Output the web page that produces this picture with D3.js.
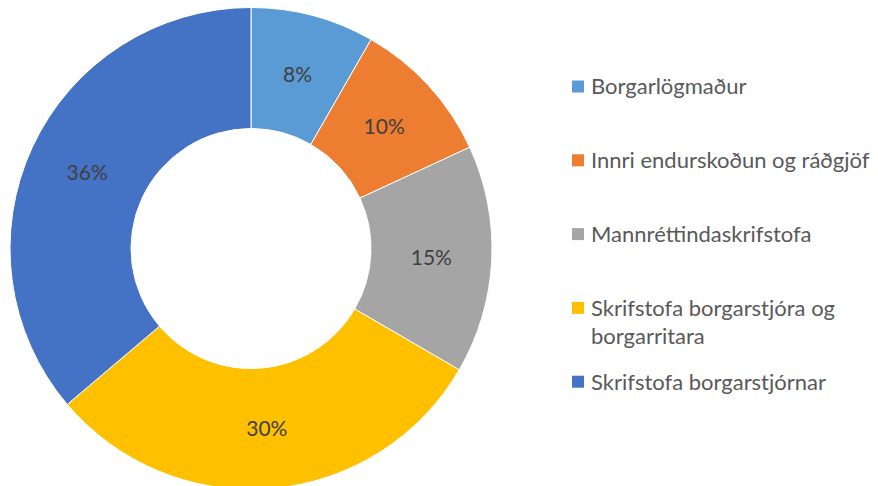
<!DOCTYPE html>
<html>
<head>
<meta charset="utf-8">
<script src="https://d3js.org/d3.v7.min.js"></script>
<style>
  body { margin: 0; background: #fff; }
  svg { display: block; font-family: Lato, "Open Sans", sans-serif; }
  .label { font-size: 21px; fill: #404040; }
  .legend text { font-size: 22px; fill: #595959; }
</style>
</head>
<body>
<div id="chart"></div>
<script>
  // slices (percent of total)
  const categories = ["Borgarlögmaður", "Innri endurskoðun og ráðgjöf", "Mannréttindaskrifstofa",
                      "Skrifstofa borgarstjóra og borgarritara", "Skrifstofa borgarstjórnar"];
  const values = [8.3, 9.8, 15.3, 30.4, 36.2];
  const colors = ["#5B9BD5", "#ED7D31", "#A5A5A5", "#FFC000", "#4472C4"];

  const width = 878, height = 486;
  const cx = 251, cy = 248.5;
  const outerR = 241, innerR = 120;

  const svg = d3.select("#chart").append("svg")
      .attr("width", width)
      .attr("height", height);

  const data = categories.map((c, i) => ({name: c, value: values[i], color: colors[i]}));
  const total = d3.sum(values);

  const pie = d3.pie().sort(null).value(d => d.value);
  const arc = d3.arc().innerRadius(innerR).outerRadius(outerR);
  const labelArc = d3.arc().innerRadius((innerR + outerR) / 2).outerRadius((innerR + outerR) / 2);

  const g = svg.append("g").attr("transform", "translate(" + cx + "," + cy + ")");

  const slices = g.selectAll("g.slice")
      .data(pie(data))
      .enter().append("g")
      .attr("class", "slice");

  slices.append("path")
      .attr("d", arc)
      .attr("fill", d => d.data.color)
      .attr("stroke", "#fff")
      .attr("stroke-width", 1);

  slices.append("text")
      .attr("class", "label")
      .attr("transform", d => "translate(" + labelArc.centroid(d) + ")")
      .attr("text-anchor", "middle")
      .attr("dy", "0.36em")
      .text(d => Math.round(d.value / total * 100) + "%");

  // legend
  const legend = svg.append("g").attr("class", "legend");
  const rowY = i => 86.5 + i * 73.8;
  const maxW = 292;

  const items = legend.selectAll("g")
      .data(data)
      .enter().append("g")
      .attr("transform", (d, i) => "translate(572," + rowY(i) + ")");

  items.append("rect")
      .attr("x", 0).attr("y", -6)
      .attr("width", 12).attr("height", 12)
      .attr("fill", d => d.color);

  items.append("text")
      .attr("x", 19)
      .attr("y", 0)
      .attr("dy", "0.36em")
      .each(function(d) {
        const t = d3.select(this);
        const words = d.name.split(" ");
        let line = [];
        let ts = t.append("tspan").attr("x", 19);
        words.forEach(w => {
          line.push(w);
          ts.text(line.join(" "));
          if (ts.node().getComputedTextLength() > maxW && line.length > 1) {
            line.pop();
            ts.text(line.join(" "));
            line = [w];
            ts = t.append("tspan").attr("x", 19).attr("dy", "1.28em").text(w);
          }
        });
      });
</script>
</body>
</html>
